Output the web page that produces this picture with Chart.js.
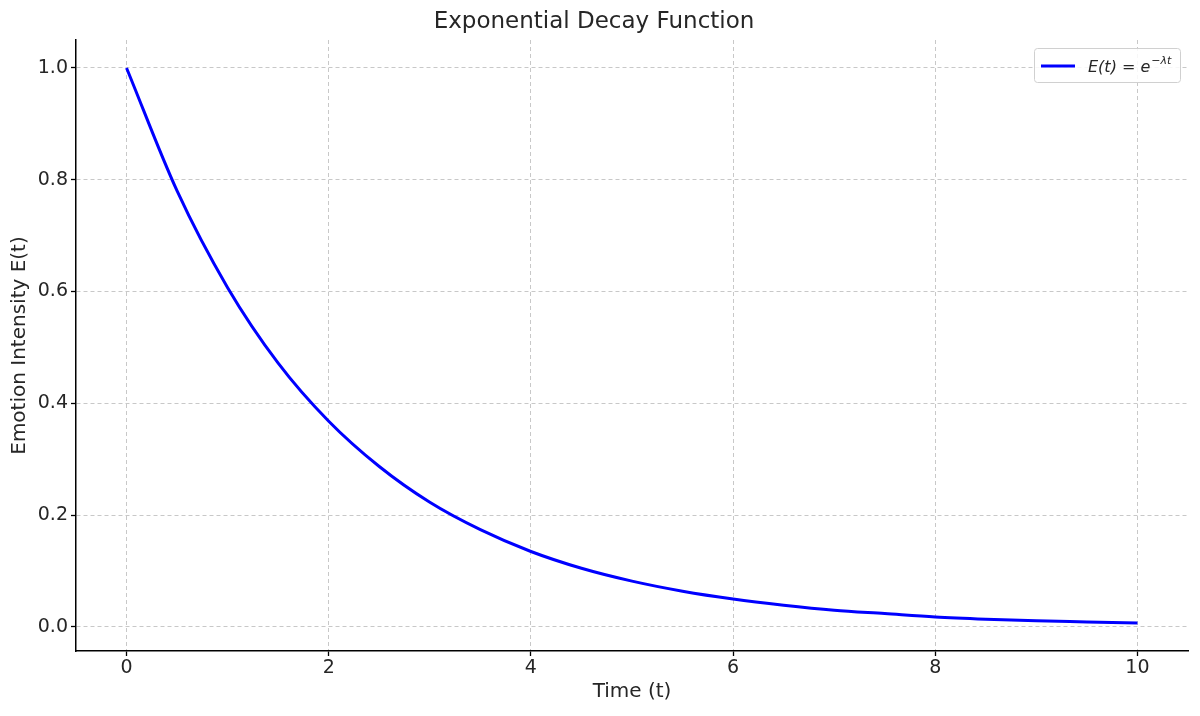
<!DOCTYPE html>
<html>
<head>
<meta charset="utf-8">
<script src="https://cdn.jsdelivr.net/npm/chart.js@4.4.0/dist/chart.umd.min.js"></script>
<style>
html,body{margin:0;padding:0;background:#fff;}
#wrap{width:1200px;height:716px;}
</style>
</head>
<body>
<div id="wrap"><canvas id="c" width="1200" height="716"></canvas></div>
<script>
// Data
const timeValues = [0, 0.5, 1, 1.5, 2, 2.5, 3, 3.5, 4, 4.5, 5, 5.5, 6, 6.5, 7, 7.5, 8, 8.5, 9, 9.5, 10];
const intensityValues = [1.0, 0.78, 0.607, 0.472, 0.368, 0.287, 0.223, 0.174, 0.135, 0.105, 0.082, 0.064, 0.05, 0.039, 0.030, 0.024, 0.018, 0.014, 0.011, 0.009, 0.007];
const xTicks = [0, 2, 4, 6, 8, 10];
const yTicks = [0.0, 0.2, 0.4, 0.6, 0.8, 1.0];
const chartTitle = 'Exponential Decay Function';
const xTitle = 'Time (t)';
const yTitle = 'Emotion Intensity E(t)';
const legendMain = 'E(t) = e';
const legendSup = '\u2212\u03BBt';

const points = timeValues.map((t, i) => ({x: t, y: intensityValues[i]}));
const FONT = "'DejaVu Sans', sans-serif";
const TXT = '#262626';

const legendPlugin = {
  id: 'mathLegend',
  afterDraw(chart) {
    const ctx = chart.ctx;
    const a = chart.chartArea;
    const bx = a.right - 154, by = a.top + 8, bw = 146, bh = 34;
    ctx.save();
    ctx.fillStyle = 'rgba(255,255,255,0.85)';
    ctx.strokeStyle = '#d0d0d0';
    ctx.lineWidth = 1;
    ctx.beginPath();
    ctx.roundRect(bx + 0.5, by + 0.5, bw, bh, 3);
    ctx.fill();
    ctx.stroke();
    const ly = by + bh / 2 + 1;
    ctx.strokeStyle = '#0000ff';
    ctx.lineWidth = 3;
    ctx.beginPath();
    ctx.moveTo(bx + 7, ly);
    ctx.lineTo(bx + 41, ly);
    ctx.stroke();
    ctx.fillStyle = TXT;
    ctx.textBaseline = 'alphabetic';
    ctx.font = "italic 16px " + FONT;
    const tx = bx + 54;
    ctx.fillText(legendMain, tx, ly + 6);
    const w = ctx.measureText(legendMain).width;
    ctx.font = "italic 11px " + FONT;
    ctx.fillText(legendSup, tx + w + 1, ly - 2);
    ctx.restore();
  }
};

new Chart(document.getElementById('c'), {
  type: 'line',
  data: {
    datasets: [{
      label: 'E(t)',
      data: points,
      borderColor: '#0000ff',
      borderWidth: 3,
      pointRadius: 0,
      fill: false,
      cubicInterpolationMode: 'monotone'
    }]
  },
  options: {
    responsive: false,
    devicePixelRatio: 1,
    animation: false,
    layout: {padding: {left: 0, right: 12, top: 0, bottom: 0}},
    plugins: {
      legend: {display: false},
      tooltip: {enabled: false},
      title: {
        display: true,
        text: chartTitle,
        color: TXT,
        font: {family: FONT, size: 23, weight: 'normal'},
        padding: {top: 8, bottom: 4.4}
      }
    },
    scales: {
      x: {
        type: 'linear',
        min: -0.5,
        max: 10.5,
        afterBuildTicks: s => { s.ticks = xTicks.map(v => ({value: v})); },
        afterFit: s => { s.height = 65; },
        ticks: {color: TXT, font: {family: FONT, size: 19}, padding: 1, maxRotation: 0, callback: v => String(v)},
        grid: {color: '#c8c8c8', lineWidth: 1, tickColor: '#000', tickLength: 5, tickWidth: 1.3},
        border: {display: true, color: '#000', width: 1.5, dash: [4, 3]},
        title: {display: true, text: xTitle, color: TXT, font: {family: FONT, size: 20}, padding: {top: 4, bottom: 12}}
      },
      y: {
        type: 'linear',
        min: -0.043,
        max: 1.05,
        afterBuildTicks: s => { s.ticks = yTicks.map(v => ({value: v})); },
        afterFit: s => { s.width = 76; },
        ticks: {color: TXT, font: {family: FONT, size: 19}, padding: 3, callback: v => v.toFixed(1)},
        grid: {color: '#c8c8c8', lineWidth: 1, tickColor: '#000', tickLength: 5, tickWidth: 1.3},
        border: {display: true, color: '#000', width: 1.5, dash: [4, 3]},
        title: {display: true, text: yTitle, color: TXT, font: {family: FONT, size: 20}, padding: {top: 8, bottom: 4}}
      }
    }
  },
  plugins: [legendPlugin]
});
</script>
</body>
</html>
